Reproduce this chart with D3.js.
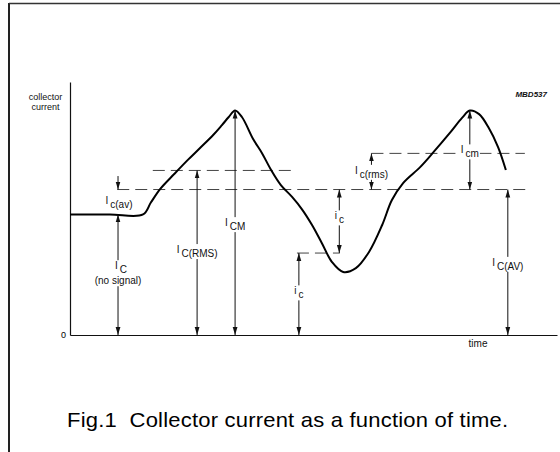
<!DOCTYPE html>
<html><head><meta charset="utf-8">
<script src="https://cdn.jsdelivr.net/npm/d3@7"></script>
<style>
html,body{margin:0;padding:0;background:#fff;}
svg{display:block;font-family:"Liberation Sans",Arial,Helvetica,sans-serif;}
</style>
</head><body>
<svg id="chart" width="560" height="452"></svg>
<script>
// Collector current waveform: time (arbitrary units) and current (% of peak)
const curveTime    = [0, 8.2, 15.0, 16.6, 18.5, 21.4, 24.2, 26.7, 29.4, 31.2, 32.6, 33.9, 35.3, 37.6, 39.4, 41.3, 43.3, 45.6, 47.6, 49.7, 51.7, 53.8, 56.1, 58.7, 61.4, 64.1, 66.1, 68.4, 71.9, 74.5, 78.0, 80.5, 82.1, 84.0, 86.0, 87.9, 89.5];
const curveCurrent = [53.7, 53.7, 53.7, 59.0, 65.0, 71.7, 78.0, 83.3, 89.1, 93.5, 97.1, 100, 97.1, 87.3, 81.1, 73.5, 66.8, 61.5, 56.1, 49.0, 41.0, 32.5, 28.1, 29.8, 37.0, 49.0, 60.1, 67.7, 74.8, 81.1, 90.0, 96.7, 100, 98.4, 92.2, 83.7, 73.5];

// Characteristic current levels
const levelNoSignal  = 53.7;
const levelAverage   = 64.8;
const levelRMS       = 73.3;
const levelRmsSignal = 80.9;
const levelInstant   = 36.5;
const levelPeak      = 100;
const axisTop        = 112.7;

// Dashed reference lines
const dashStart = [9.7, 17.0, 61.9, 46.6];
const dashEnd   = [94.5, 45.6, 93.4, 55.4];
const dashLevel = [levelAverage, levelRMS, levelRmsSignal, levelInstant];

// Dimension arrows
const arrowTime = [9.86, 9.86, 26.1, 33.9, 47.0, 55.3, 61.9, 82.1, 89.9];
const arrowFrom = [0, 70.8, 0, 0, 0, levelInstant, levelAverage, levelAverage, 0];
const arrowTo   = [levelNoSignal, levelAverage, levelRMS, levelPeak, levelInstant, levelAverage, levelRmsSignal, levelPeak, levelAverage];
const arrowBoth = [true, false, true, true, true, true, true, true, true];

// Labels: main symbol, subscript, optional second line
const labelMain  = ["I", "I", "I", "I", "i", "i", "I", "I", "I"];
const labelSub   = ["c(av)", "C", "C(RMS)", "CM", "c", "c", "c(rms)", "cm", "C(AV)"];
const labelExtra = ["", "(no signal)", "", "", "", "", "", "", ""];

const svg = d3.select("#chart");
const x = d3.scaleLinear().domain([0, 100]).range([70, 557]);
const y = d3.scaleLinear().domain([0, axisTop]).range([335, 82]);

// page frame
svg.append("line").attr("x1", 9).attr("x2", 9).attr("y1", 3).attr("y2", 452)
  .attr("stroke", "#222").attr("stroke-width", 2);
svg.append("line").attr("x1", 9).attr("x2", 560).attr("y1", 3.5).attr("y2", 3.5)
  .attr("stroke", "#333").attr("stroke-width", 1.6);

// arrowhead marker
const defs = svg.append("defs");
defs.append("marker").attr("id", "head").attr("viewBox", "0 0 8 8")
  .attr("refX", 8).attr("refY", 4).attr("markerWidth", 8).attr("markerHeight", 8)
  .attr("markerUnits", "userSpaceOnUse").attr("orient", "auto-start-reverse")
  .append("path").attr("d", "M0,1.6L8,4L0,6.4Z").attr("fill", "#111");

// axes
const yAxis = svg.append("g").attr("transform", `translate(${x(0)},0)`)
  .call(d3.axisLeft(y).tickValues([0]).tickSize(0).tickSizeOuter(0).tickPadding(4));
const xAxis = svg.append("g").attr("transform", `translate(0,${y(0)})`)
  .call(d3.axisBottom(x).tickValues([]).tickSizeOuter(0));
[yAxis, xAxis].forEach(g => {
  g.attr("font-family", null).attr("font-size", 9);
  g.select(".domain").attr("stroke", "#111").attr("stroke-width", 1.2);
});

// dashed levels
svg.append("g").selectAll("line").data(dashLevel).join("line")
  .attr("x1", (d, i) => x(dashStart[i])).attr("x2", (d, i) => x(dashEnd[i]))
  .attr("y1", d => y(d)).attr("y2", d => y(d))
  .attr("stroke", "#444").attr("stroke-width", 1).attr("stroke-dasharray", "12,6");

// waveform
const pts = curveTime.map((t, i) => [t, curveCurrent[i]]);
svg.append("path").datum(pts)
  .attr("d", d3.line().x(d => x(d[0])).y(d => y(d[1])).curve(d3.curveCatmullRom.alpha(0.5)))
  .attr("fill", "none").attr("stroke", "#000").attr("stroke-width", 2);

// dimension arrows
svg.append("g").selectAll("line").data(arrowTime).join("line")
  .attr("x1", d => x(d)).attr("x2", d => x(d))
  .attr("y1", (d, i) => y(arrowFrom[i])).attr("y2", (d, i) => y(arrowTo[i]))
  .attr("stroke", "#111").attr("stroke-width", 1)
  .attr("marker-end", "url(#head)")
  .attr("marker-start", (d, i) => arrowBoth[i] ? "url(#head)" : null);

// labels centred on their arrows, with a white knock-out box
const labelLevel = [58.5, 29.3, 36.5, 48.5, 18.1, 51.5, 71.8, 80.9, 30.8];
const labelShift = [1, 3, 0, 0, 0, 0, 0, 0, 0];
const labelLayer = svg.append("g");
labelMain.forEach((m, i) => {
  const cx = x(arrowTime[i]) + labelShift[i];
  const base = y(labelLevel[i]);
  const g = labelLayer.append("g");
  const t = g.append("text").attr("x", cx).attr("y", base)
    .attr("text-anchor", "middle").attr("font-size", 10).attr("fill", "#111");
  t.append("tspan").text(m);
  t.append("tspan").attr("dx", 2).attr("dy", 4).text(labelSub[i]);
  let boxes = [t.node().getBBox()];
  if (labelExtra[i]) {
    const e = g.append("text").attr("x", x(arrowTime[i])).attr("y", base + 15)
      .attr("text-anchor", "middle").attr("font-size", 10).attr("fill", "#111")
      .text(labelExtra[i]);
    boxes.push(e.node().getBBox());
  }
  const x0 = d3.min(boxes, b => b.x), x1 = d3.max(boxes, b => b.x + b.width);
  const y0 = d3.min(boxes, b => b.y), y1 = d3.max(boxes, b => b.y + b.height);
  g.insert("rect", "text").attr("x", x0 - 1).attr("y", y0)
    .attr("width", x1 - x0 + 2).attr("height", y1 - y0).attr("fill", "#fff");
});

// axis titles and figure code
svg.append("text").attr("x", 45.5).attr("y", 100).attr("text-anchor", "middle")
  .attr("font-size", 9).attr("fill", "#111").text("collector");
svg.append("text").attr("x", 45.5).attr("y", 110).attr("text-anchor", "middle")
  .attr("font-size", 9).attr("fill", "#111").text("current");
svg.append("text").attr("x", 478).attr("y", 347).attr("text-anchor", "middle")
  .attr("font-size", 10).attr("fill", "#111").text("time");
svg.append("text").attr("x", 547).attr("y", 97).attr("text-anchor", "end")
  .attr("font-size", 8).attr("font-weight", "bold").attr("font-style", "italic")
  .attr("fill", "#111").text("MBD537");

// caption, set slightly wide
svg.append("text").attr("transform", "translate(67,427) scale(1.1,1)")
  .attr("font-size", 20).attr("textLength", 401).attr("lengthAdjust", "spacing")
  .attr("fill", "#000").attr("xml:space", "preserve")
  .text("Fig.1  Collector current as a function of time.");
</script>
</body></html>
